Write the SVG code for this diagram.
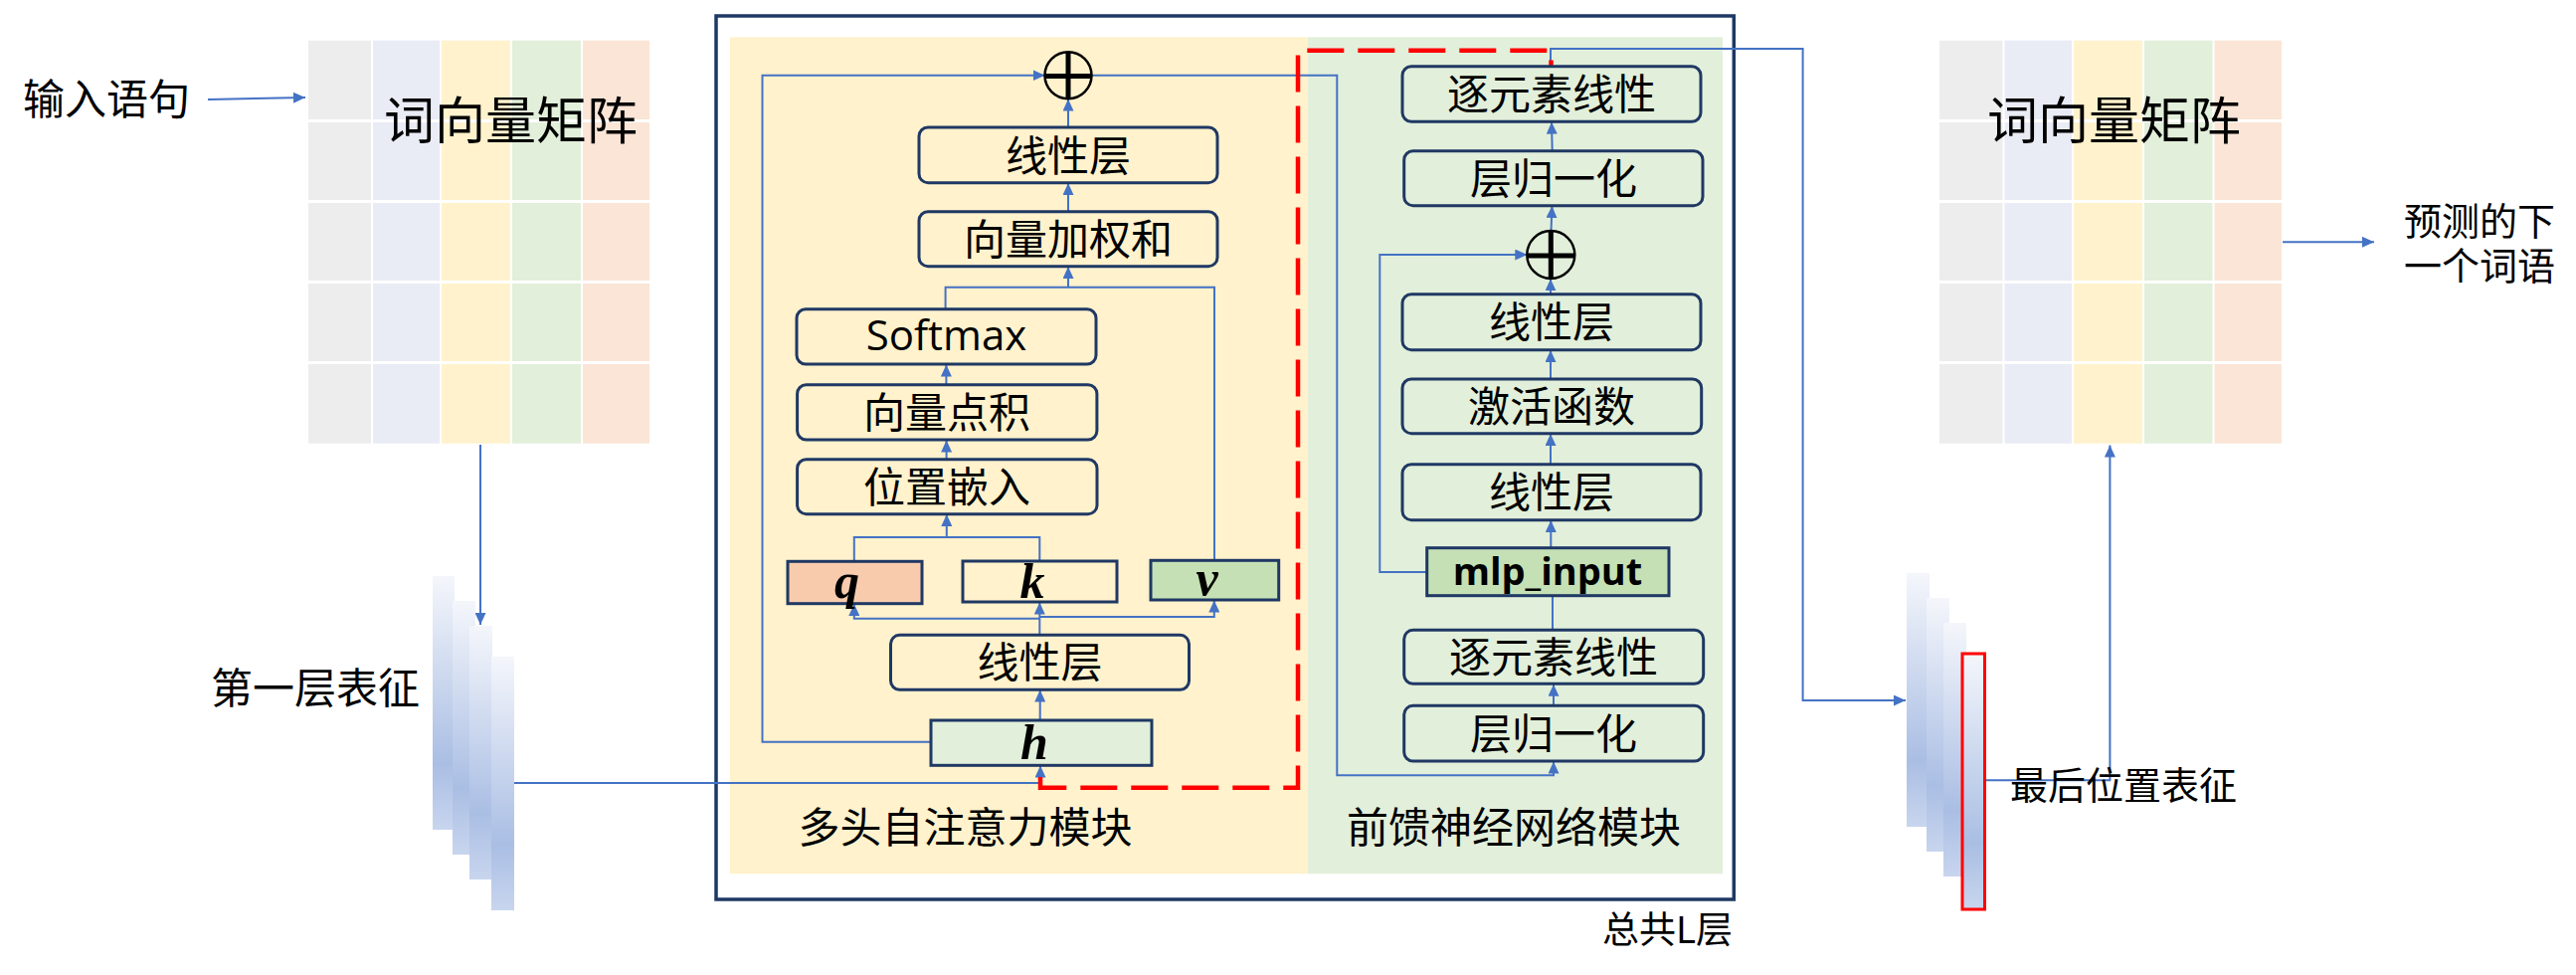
<svg xmlns="http://www.w3.org/2000/svg" width="2590" height="980" viewBox="0 0 2590 980">
<defs>
<style>
.t{font-family:"Noto Sans CJK SC","Noto Sans",sans-serif;font-size:42px;fill:#000;text-anchor:middle}
.lbl{font-family:"Noto Sans CJK SC","Noto Sans",sans-serif;fill:#000}
.box{fill:none;stroke:#1F3864;stroke-width:3}
.rbox{stroke:#1F3864;stroke-width:3}
.var{font-family:"Liberation Serif","DejaVu Serif",serif;font-weight:bold;font-style:italic;font-size:50px;text-anchor:middle}
.c{fill:none;stroke:#4472C4;stroke-width:2}
.a{fill:none;stroke:#4472C4;stroke-width:2;marker-end:url(#ah)}
.bar{fill:url(#bg)}
.sep{stroke:#fff;stroke-width:3}
</style>
<marker id="ah" markerUnits="userSpaceOnUse" markerWidth="12" markerHeight="11" refX="12" refY="5.5" orient="auto">
<path d="M0,0 L12,5.5 L0,11 z" fill="#4472C4"/>
</marker>
<linearGradient id="bg" x1="0" y1="0" x2="0" y2="1">
<stop offset="0" stop-color="#F4F6FB"/>
<stop offset="0.74" stop-color="#AABEE4"/>
<stop offset="1" stop-color="#C8D5EE"/>
</linearGradient>
</defs>
<rect width="2590" height="980" fill="#fff"/>

<!-- left matrix -->
<g id="matrix-left">
<rect x="310" y="40.7" width="63" height="405" fill="#EDEDED"/>
<rect x="375" y="40.7" width="67" height="405" fill="#E9EBF5"/>
<rect x="444" y="40.7" width="69" height="405" fill="#FFF2CC"/>
<rect x="515" y="40.7" width="69" height="405" fill="#E2EFDA"/>
<rect x="586" y="40.7" width="67" height="405" fill="#FBE5D6"/>
<line class="sep" x1="310" y1="121.5" x2="653" y2="121.5"/>
<line class="sep" x1="310" y1="202.5" x2="653" y2="202.5"/>
<line class="sep" x1="310" y1="283.5" x2="653" y2="283.5"/>
<line class="sep" x1="310" y1="364.5" x2="653" y2="364.5"/>
<text class="lbl" x="386" y="139.5" font-size="51">词向量矩阵</text>
</g>
<g id="label-input"><text class="lbl" x="23" y="115" font-size="42">输入语句</text></g>

<!-- left bars -->
<g id="bars-left">
<rect class="bar" x="435" y="579" width="22" height="255"/>
<rect class="bar" x="455" y="604" width="23" height="255"/>
<rect class="bar" x="472" y="629" width="23" height="255"/>
<rect class="bar" x="494" y="660" width="23" height="255"/>
<text class="lbl" x="212" y="707" font-size="42">第一层表征</text>
</g>

<!-- outer box and module backgrounds -->
<g id="layer-box">
<rect x="734" y="37.3" width="581" height="841" fill="#FFF2CC"/>
<rect x="1315" y="37.3" width="417" height="841" fill="#E2EFDA"/>
<rect x="720" y="16" width="1023.3" height="888" fill="none" stroke="#1F3864" stroke-width="3.5"/>
<text class="lbl" x="970.5" y="847" font-size="42" text-anchor="middle">多头自注意力模块</text>
<text class="lbl" x="1522" y="847" font-size="42" text-anchor="middle">前馈神经网络模块</text>
<text class="lbl" x="1611" y="948" font-size="37">总共L层</text>
</g>

<!-- connectors -->
<g id="connectors">
<path class="a" d="M209,100 L307,98"/>
<path class="a" d="M483,447 L483,628"/>
<path class="a" d="M517,787 L1046,787 L1046,769.5"/>
<path class="a" d="M1045.7,724 L1045.7,693.5"/>
<path class="a" d="M1045.3,638.3 L1045.3,605.5"/>
<path class="a" d="M1045.3,621.7 L858.8,621.7 L858.8,607"/>
<path class="a" d="M1045.3,620 L1220.8,620 L1220.8,603.5"/>
<path class="c" d="M858.8,564.3 L858.8,540 L1045.3,540 L1045.3,564"/>
<path class="a" d="M951.8,540 L951.8,517"/>
<path class="a" d="M951.6,461.7 L951.6,442.5"/>
<path class="a" d="M951.4,386.7 L951.4,366.5"/>
<path class="c" d="M950.6,310.7 L950.6,288.7 L1221,288.7 L1221,563.3"/>
<path class="a" d="M1074,288.7 L1074,268"/>
<path class="a" d="M1074,212.7 L1074,184"/>
<path class="a" d="M1074,128 L1074,99.5"/>
<path class="a" d="M936,745.7 L766.5,745.7 L766.5,75.7 L1050.5,75.7"/>
<path class="a" d="M1097.5,75.7 L1344.3,75.7 L1344.3,779.3 L1562,779.3 L1562,765.5"/>
<path class="a" d="M1562,709.3 L1562,687.8"/>
<path class="c" d="M1561,633.3 L1561,598.7"/>
<path class="a" d="M1559.3,550.7 L1559.3,523"/>
<path class="a" d="M1434.7,575 L1387.3,575 L1387.3,256 L1535.3,256"/>
<path class="a" d="M1559,466.7 L1559,436"/>
<path class="a" d="M1559,381 L1559,352"/>
<path class="a" d="M1559,295.7 L1559,280.3"/>
<path class="a" d="M1559.5,232 L1560.5,207"/>
<path class="a" d="M1560.7,151.7 L1560,122.7"/>
<path class="a" d="M1559,66.7 L1559,49 L1812.6,49 L1812.6,704 L1916,704"/>
<path class="a" d="M1995.5,784.3 L2121.4,784.3 L2121.4,447.5"/>
<path class="a" d="M2295,243.3 L2387,243.3"/>
</g>

<!-- attention module nodes -->
<g id="plus1">
<circle cx="1074" cy="75.7" r="23.5" fill="none" stroke="#000" stroke-width="2.5"/>
<path d="M1051,76.5 H1097 M1074,53 V99" stroke="#000" stroke-width="5"/>
</g>
<g id="attn-linear-out"><rect class="box" x="924" y="128" width="300" height="55.7" rx="9"/><text class="t" x="1074" y="171.5">线性层</text></g>
<g id="attn-weighted-sum"><rect class="box" x="924" y="212.7" width="300" height="55" rx="9"/><text class="t" x="1074" y="255.5">向量加权和</text></g>
<g id="attn-softmax"><rect class="box" x="801" y="310.7" width="301" height="55.3" rx="9"/><text x="951.5" y="352.3" font-family="'Open Sans','Noto Sans',sans-serif" font-size="42" text-anchor="middle">Softmax</text></g>
<g id="attn-dot"><rect class="box" x="801.6" y="386.7" width="301.3" height="55.3" rx="9"/><text class="t" x="952" y="429.5">向量点积</text></g>
<g id="attn-pos"><rect class="box" x="801.6" y="461.7" width="301.4" height="55" rx="9"/><text class="t" x="952" y="504.5">位置嵌入</text></g>
<g id="node-q"><rect class="rbox" x="792" y="564.3" width="135" height="42.4" fill="#F8CBAD"/><text class="var" x="851.5" y="600.5">q</text></g>
<g id="node-k"><rect class="rbox" x="968" y="564" width="155" height="41" fill="#FFF2CC"/><text class="var" x="1038" y="600.5">k</text></g>
<g id="node-v"><rect class="rbox" x="1157" y="563.3" width="128.7" height="39.7" fill="#C5E0B4"/><text class="var" x="1213.5" y="598">v</text></g>
<g id="attn-linear-in"><rect class="box" x="895.5" y="638.3" width="300" height="55" rx="9"/><text class="t" x="1045.5" y="681">线性层</text></g>
<g id="node-h"><rect class="rbox" x="936" y="724" width="222" height="45.3" fill="#E2EFDA"/><text class="var" x="1040" y="763.3">h</text></g>

<!-- red dashed outline -->
<g id="red-dash">
<path d="M1046,781 L1046,791.7 L1305,791.7 L1305,50.7 L1559.5,50.7 L1559.5,66.7" fill="none" stroke="#FF0000" stroke-width="4.5" stroke-dasharray="37 14"/>
</g>

<!-- FFN module nodes -->
<g id="ffn-elem-top"><rect class="box" x="1410" y="66.7" width="300" height="55.6" rx="9"/><text class="t" x="1560" y="110">逐元素线性</text></g>
<g id="ffn-ln-top"><rect class="box" x="1411.7" y="151.7" width="300.3" height="55" rx="9"/><text class="t" x="1562" y="195">层归一化</text></g>
<g id="plus2">
<circle cx="1559.3" cy="256" r="24" fill="none" stroke="#000" stroke-width="2.5"/>
<path d="M1535.5,257 H1583 M1559.3,232 V280" stroke="#000" stroke-width="5"/>
</g>
<g id="ffn-linear2"><rect class="box" x="1410" y="295.7" width="300" height="56" rx="9"/><text class="t" x="1560" y="339">线性层</text></g>
<g id="ffn-act"><rect class="box" x="1410" y="381" width="300.7" height="54.7" rx="9"/><text class="t" x="1560" y="424">激活函数</text></g>
<g id="ffn-linear1"><rect class="box" x="1410" y="466.7" width="300" height="56" rx="9"/><text class="t" x="1560" y="510">线性层</text></g>
<g id="ffn-mlp-input"><rect class="rbox" x="1434.7" y="550.7" width="243.3" height="48" fill="#C5E0B4"/><text x="1556" y="588" font-family="'Open Sans','Noto Sans',sans-serif" font-weight="bold" font-size="38" text-anchor="middle">mlp_input</text></g>
<g id="ffn-elem-bottom"><rect class="box" x="1411.7" y="633.3" width="301" height="54" rx="9"/><text class="t" x="1562" y="676">逐元素线性</text></g>
<g id="ffn-ln-bottom"><rect class="box" x="1411.7" y="709.3" width="301" height="55.7" rx="9"/><text class="t" x="1562" y="753">层归一化</text></g>

<!-- right bars -->
<g id="bars-right">
<rect class="bar" x="1917" y="576" width="23" height="255"/>
<rect class="bar" x="1937" y="601" width="23" height="255"/>
<rect class="bar" x="1954" y="626" width="23" height="255"/>
<rect class="bar" x="1973" y="657" width="22.5" height="257" stroke="#FF0000" stroke-width="3"/>
<text class="lbl" x="2021" y="802.5" font-size="38">最后位置表征</text>
</g>

<!-- right matrix -->
<g id="matrix-right">
<rect x="1950" y="40.7" width="63.5" height="405" fill="#EDEDED"/>
<rect x="2015.5" y="40.7" width="67.5" height="405" fill="#E9EBF5"/>
<rect x="2085" y="40.7" width="69" height="405" fill="#FFF2CC"/>
<rect x="2156" y="40.7" width="68.5" height="405" fill="#E2EFDA"/>
<rect x="2226.5" y="40.7" width="67.5" height="405" fill="#FBE5D6"/>
<line class="sep" x1="1950" y1="121.5" x2="2294" y2="121.5"/>
<line class="sep" x1="1950" y1="202.5" x2="2294" y2="202.5"/>
<line class="sep" x1="1950" y1="283.5" x2="2294" y2="283.5"/>
<line class="sep" x1="1950" y1="364.5" x2="2294" y2="364.5"/>
<text class="lbl" x="1998" y="139.5" font-size="51">词向量矩阵</text>
</g>
<g id="label-output">
<text class="lbl" x="2417" y="236" font-size="38">预测的下</text>
<text class="lbl" x="2417" y="281" font-size="38">一个词语</text>
</g>
</svg>
